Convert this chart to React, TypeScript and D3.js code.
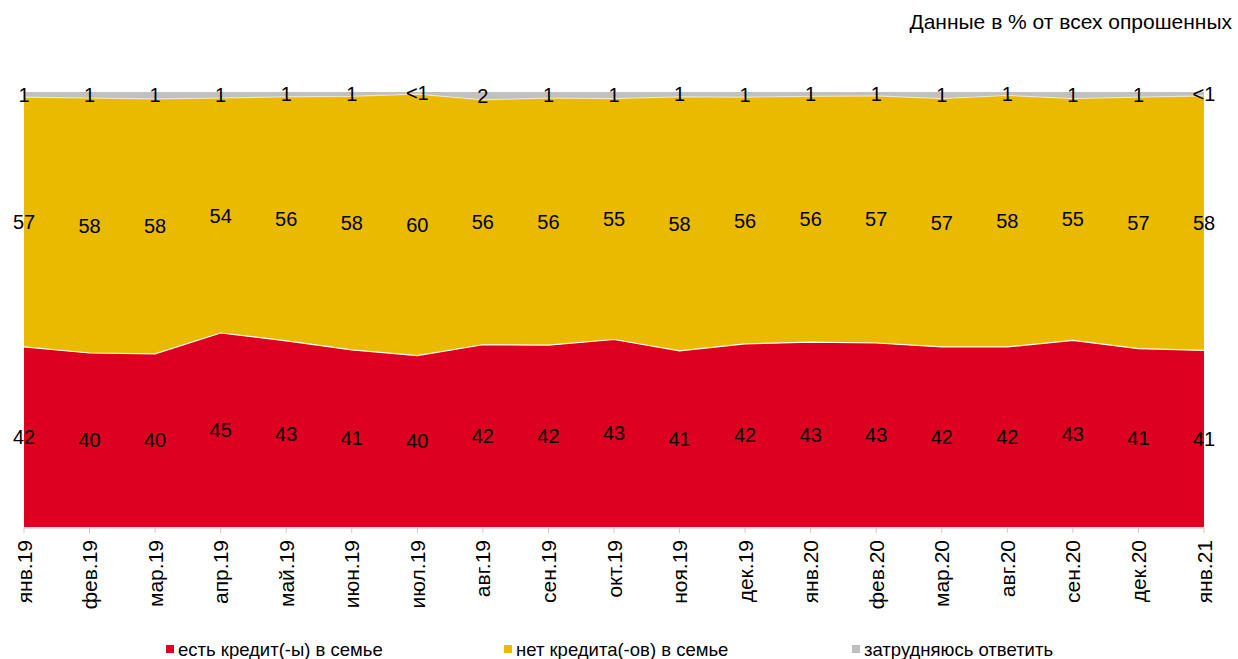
import React from "react";
import * as d3 from "d3";

const categories = ["янв.19","фев.19","мар.19","апр.19","май.19","июн.19","июл.19","авг.19","сен.19","окт.19","ноя.19","дек.19","янв.20","фев.20","мар.20","авг.20","сен.20","дек.20","янв.21"];
const hasCredit = [41.4,40.0,39.8,44.6,42.8,40.7,39.4,41.9,41.8,43.1,40.5,42.1,42.5,42.3,41.4,41.4,42.9,41.0,40.6];
const noCredit = [57.4,58.6,58.6,54.0,56.1,58.3,60.1,56.3,56.8,55.4,58.4,56.7,56.5,56.8,57.1,57.8,55.6,57.8,58.5];
const hardToSay = [1.2,1.4,1.6,1.4,1.1,1.0,0.5,1.8,1.4,1.5,1.1,1.2,1.0,0.9,1.5,0.8,1.5,1.2,0.9];
const hasCreditLabels = ["42","40","40","45","43","41","40","42","42","43","41","42","43","43","42","42","43","41","41"];
const noCreditLabels = ["57","58","58","54","56","58","60","56","56","55","58","56","56","57","57","58","55","57","58"];
const hardToSayLabels = ["1","1","1","1","1","1","<1","2","1","1","1","1","1","1","1","1","1","1","<1"];
const seriesNames = ["есть кредит(-ы) в семье","нет кредита(-ов) в семье","затрудняюсь ответить"];
const title = "Данные в % от всех опрошенных";

const colors = ["#DE0020", "#E9BA00", "#C0C0C0"];
const FONT = "'Liberation Sans', Arial, sans-serif";

export default function App() {
  const W = 1238, H = 659;
  const left = 24, right = 1204, top = 92, bottom = 527;
  const x = d3.scalePoint<string>().domain(categories).range([left, right]);
  const y = d3.scaleLinear().domain([0, 1]).range([bottom, top]);
  const keys = ["a", "b", "c"];
  const rows = categories.map((c, i) => ({ cat: c, a: hasCredit[i], b: noCredit[i], c: hardToSay[i] }));
  const stack = d3.stack<any>().keys(keys).offset(d3.stackOffsetExpand);
  const series = stack(rows);
  const area = d3.area<any>()
    .x((d) => x(d.data.cat) as number)
    .y0((d) => y(d[0]))
    .y1((d) => y(d[1]));
  const line = d3.line<any>()
    .x((d) => x(d.data.cat) as number)
    .y((d) => y(d[1]));
  const labelSets = [hasCreditLabels, noCreditLabels, hardToSayLabels];
  const legendX = [166, 504, 852];

  return (
    <div style={{ position: "absolute", left: 0, top: 0 }}>
      <svg width={W} height={H} style={{ display: "block", background: "#fff" }} fontFamily={FONT}>
        <text x={1232} y={29} textAnchor="end" fontSize={21} fill="#000">{title}</text>
        {series.map((s, i) => (
          <path key={"a" + i} d={area(s) || ""} fill={colors[i]} />
        ))}
        {series.slice(0, 2).map((s, i) => (
          <path key={"l" + i} d={line(s) || ""} fill="none" stroke="#fff" strokeWidth={1.2} strokeOpacity={i === 0 ? 0.95 : 0.5} />
        ))}
        <line x1={left} x2={right} y1={bottom + 1} y2={bottom + 1} stroke="#c8c8c8" strokeWidth={1} />
        {categories.map((c) => (
          <line key={"t" + c} x1={x(c)} x2={x(c)} y1={bottom + 1} y2={bottom + 6} stroke="#c8c8c8" strokeWidth={1} />
        ))}
        {categories.map((c) => (
          <text key={"x" + c} transform={`translate(${(x(c) as number) + 7.5},${bottom + 13}) rotate(-90)`} textAnchor="end" fontSize={21} fill="#000">{c}</text>
        ))}
        {series.map((s, i) =>
          s.map((d, j) => (
            <text key={`v${i}-${j}`} x={x(d.data.cat)} y={y((d[0] + d[1]) / 2)} textAnchor="middle" dominantBaseline="central" fontSize={20} fill="#000">
              {labelSets[i][j]}
            </text>
          ))
        )}
        {seriesNames.map((n, i) => (
          <g key={"lg" + i}>
            <rect x={legendX[i]} y={645} width={8} height={8} fill={colors[i]} />
            <text x={legendX[i] + 12} y={656} fontSize={18.5} fill="#000">{n}</text>
          </g>
        ))}
      </svg>
    </div>
  );
}
